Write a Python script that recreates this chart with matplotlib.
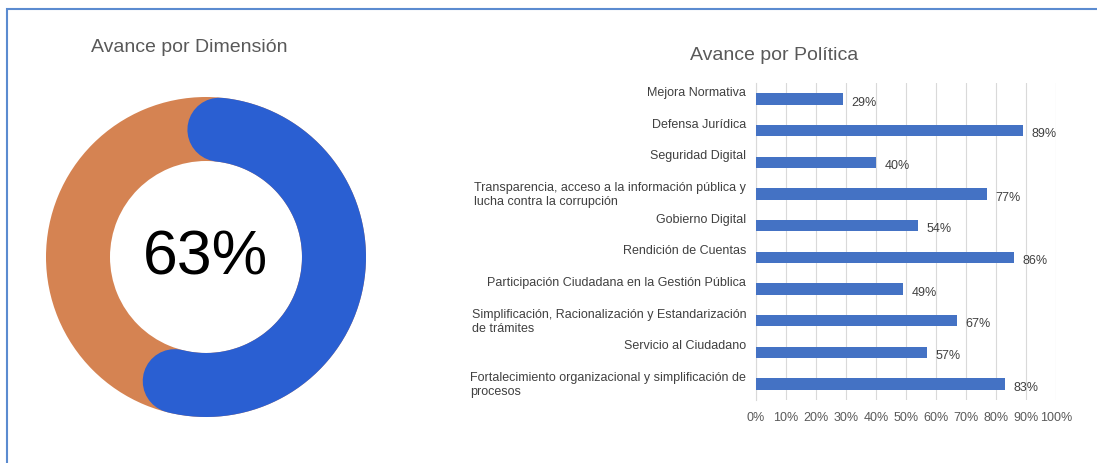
import numpy as np
import matplotlib.pyplot as plt
from matplotlib.patches import Wedge
import matplotlib.transforms as mtransforms

plt.rcParams['font.family'] = ['Liberation Sans', 'DejaVu Sans']

# Data
avance_total = 63  # %
politicas = [
    'Mejora Normativa',
    'Defensa Jurídica',
    'Seguridad Digital',
    'Transparencia, acceso a la información pública y\nlucha contra la corrupción',
    'Gobierno Digital',
    'Rendición de Cuentas',
    'Participación Ciudadana en la Gestión Pública',
    'Simplificación, Racionalización y Estandarización\nde trámites',
    'Servicio al Ciudadano',
    'Fortalecimiento organizacional y simplificación de\nprocesos',
]
avance_politica = [29, 89, 40, 77, 54, 86, 49, 67, 57, 83]
x_ticks = [0, 10, 20, 30, 40, 50, 60, 70, 80, 90, 100]

# Colours
blue_ring = '#2A5FD2'
orange_ring = '#D58352'
bar_color = '#4472C4'
grey_txt = '#595959'

W, H = 1097, 464
fig = plt.figure(figsize=(W / 100, H / 100), dpi=100)

# outer frame (only left/top visible in the reference)
frame = plt.Rectangle((7 / W, -0.1), 1.2, 1 - 10 / H + 0.1, transform=fig.transFigure,
                      fill=False, edgecolor='#5B8BD0', linewidth=1.5)
fig.add_artist(frame)

# ---- donut ----
cx, cy, half = 206, 258, 170
ax_d = fig.add_axes([(cx - half) / W, 1 - (cy + half) / H, 2 * half / W, 2 * half / H])
ax_d.set_xlim(-half, half)
ax_d.set_ylim(-half, half)
ax_d.set_aspect('equal')
ax_d.axis('off')

r_out, ring_w = 160, 64
ax_d.add_patch(Wedge((0, 0), r_out, 0, 360, width=ring_w, color=orange_ring, linewidth=0))

# blue arc drawn as a thick line with round caps
r_mid = r_out - ring_w / 2
cap_deg = np.degrees((ring_w / 2) / r_mid)
start = 6.0   # clockwise degrees from 12 o'clock
trim = 10.0   # the reference arc stops a little short
span = avance_total / 100 * 360 - 2 * cap_deg - trim
ang = np.radians(90 - np.linspace(start, start + span, 300))
ax_d.plot(r_mid * np.cos(ang), r_mid * np.sin(ang), color=blue_ring,
          linewidth=ring_w * 72 / 100, solid_capstyle='round')
ax_d.text(0, 0, f'{avance_total}%', ha='center', va='center', fontsize=45, color='black')

fig.text(189 / W, 1 - 48 / H, 'Avance por Dimensión', ha='center', va='center',
         fontsize=14, color=grey_txt)

# ---- bars ----
left, right, top, bottom = 756, 1056, 84.2, 400.8
ax = fig.add_axes([left / W, 1 - bottom / H, (right - left) / W, (bottom - top) / H])
y = np.arange(len(politicas))
ax.barh(y, avance_politica, height=0.36, color=bar_color, zorder=3)
ax.set_xlim(0, 100)
ax.set_ylim(len(politicas) - 0.5, -0.5)
ax.set_xticks(x_ticks)
ax.set_xticklabels([f'{t}%' for t in x_ticks], fontsize=9, color=grey_txt)
ax.tick_params(axis='x', length=0, pad=8)
ax.set_yticks([])
ax.grid(axis='x', color='#D9D9D9', linewidth=0.8, zorder=0)
for s in ['top', 'right', 'bottom']:
    ax.spines[s].set_visible(False)
ax.spines['left'].set_color('#D9D9D9')

for yi, v in zip(y, avance_politica):
    ax.annotate(f'{v}%', (v, yi), xytext=(6, -2), textcoords='offset points',
                ha='left', va='center', fontsize=9, color='#404040')

# category labels (single-line ones sit a bit above the bar, like the original)
for yi, lab in zip(y, politicas):
    dy = 0 if '\n' in lab else 5
    tr = mtransforms.offset_copy(ax.get_yaxis_transform(), fig=fig, x=-7, y=dy, units='points')
    ax.text(0, yi, lab, transform=tr, ha='right', va='center', multialignment='left',
            fontsize=9, color='#404040', linespacing=1.2)

fig.text(774 / W, 1 - 55 / H, 'Avance por Política', ha='center', va='center',
         fontsize=14, color=grey_txt)

fig.savefig('out.png', dpi=100)
